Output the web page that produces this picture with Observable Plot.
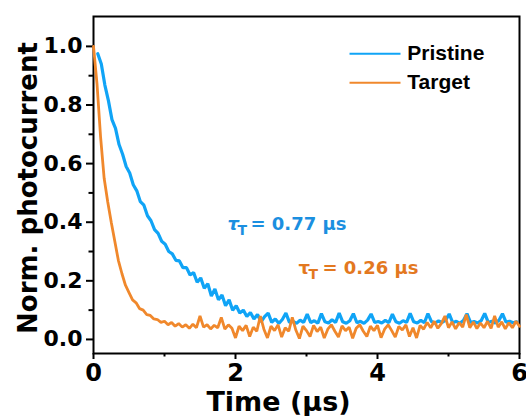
<!DOCTYPE html>
<html><head><meta charset="utf-8">
<script src="https://cdn.jsdelivr.net/npm/d3@7"></script>
<script src="https://cdn.jsdelivr.net/npm/@observablehq/plot@0.6"></script>
<style>body{margin:0;background:#fff} #chart{width:526px;height:416px}</style>
</head><body><div id="chart"></div>
<script>
// Sampling grid (μs)
const pristineStart = 0.06;
const targetStart = 0.0;
const sampleStep = 0.05;

// Pristine, normalized photocurrent
const pristineValues = [
  0.975, 0.94, 0.868, 0.815, 0.75, 0.72, 0.665, 0.632, 0.59, 0.568,
  0.528, 0.507, 0.47, 0.458, 0.422, 0.405, 0.375, 0.362, 0.335, 0.325,
  0.3, 0.292, 0.27, 0.268, 0.245, 0.245, 0.22, 0.228, 0.195, 0.21,
  0.175, 0.19, 0.148, 0.172, 0.135, 0.152, 0.115, 0.135, 0.1, 0.115,
  0.09, 0.1, 0.078, 0.092, 0.07, 0.085, 0.06, 0.078, 0.09, 0.058,
  0.07, 0.055, 0.068, 0.09, 0.058, 0.062, 0.055, 0.066, 0.058, 0.086,
  0.057, 0.064, 0.055, 0.088, 0.06, 0.056, 0.067, 0.058, 0.09, 0.06,
  0.055, 0.064, 0.088, 0.057, 0.062, 0.055, 0.066, 0.087, 0.058, 0.061,
  0.056, 0.065, 0.057, 0.086, 0.06, 0.055, 0.064, 0.058, 0.089, 0.06,
  0.056, 0.065, 0.057, 0.088, 0.061, 0.056, 0.063, 0.058, 0.066, 0.087,
  0.057, 0.062, 0.055, 0.065, 0.088, 0.058, 0.061, 0.056, 0.064, 0.089,
  0.058, 0.062, 0.056, 0.065, 0.088, 0.059, 0.062, 0.057, 0.06
];

// Target, normalized photocurrent
const targetValues = [
  1.00, 0.87, 0.69, 0.55, 0.47, 0.40, 0.335, 0.27, 0.225, 0.185,
  0.16, 0.135, 0.125, 0.105, 0.1, 0.085, 0.082, 0.07, 0.068, 0.058,
  0.062, 0.05, 0.058, 0.045, 0.054, 0.042, 0.05, 0.038, 0.052, 0.04,
  0.08, 0.042, 0.05, 0.036, 0.048, 0.04, 0.075, 0.035, 0.05, 0.038,
  0.005, 0.045, 0.03, 0.048, 0.01, 0.042, 0.028, 0.08, 0.035, 0.005,
  0.045, 0.03, 0.05, 0.008, 0.04, 0.028, 0.075, 0.032, 0.003, 0.045,
  0.03, 0.01, 0.048, 0.027, 0.042, 0.005, 0.035, 0.05, 0.028, 0.008,
  0.046, 0.03, 0.042, 0.004, 0.038, 0.05, 0.028, 0.01, 0.045, 0.03,
  0.048, 0.006, 0.035, 0.05, 0.03, 0.008, 0.044, 0.032, 0.05, 0.01,
  0.04, 0.005, 0.048, 0.035, 0.058, 0.04, 0.062, 0.038, 0.055, 0.08,
  0.04, 0.06, 0.036, 0.057, 0.042, 0.085, 0.04, 0.06, 0.037, 0.056,
  0.04, 0.062, 0.038, 0.08, 0.042, 0.06, 0.036, 0.057, 0.04, 0.062,
  0.045
];

const seriesNames = ["Pristine", "Target"];
const seriesColors = ["#10a4f6", "#f0882c"];
const textColors = ["#1b8fe0", "#e3781f"];
const tauValues = ["= 0.77 μs", "= 0.26 μs"];
const xMajorTicks = [0, 2, 4, 6];
const xMinorTicks = [1, 3, 5];
const yMajorTicks = [0, 0.2, 0.4, 0.6, 0.8, 1.0];
const yMinorTicks = [0.1, 0.3, 0.5, 0.7, 0.9];
const xTitle = "Time (μs)";
const yTitle = "Norm. photocurrent";

const rows = [];
pristineValues.forEach((v, i) => rows.push({series: "Pristine", t: pristineStart + i * sampleStep, v}));
targetValues.forEach((v, i) => rows.push({series: "Target", t: targetStart + i * sampleStep, v}));

const boldFont = "DejaVu Sans";
const legendFont = "Liberation Sans, Arial, sans-serif";

const plot = Plot.plot({
  width: 526,
  height: 416,
  marginLeft: 93,
  marginRight: 7,
  marginTop: 16,
  marginBottom: 63,
  x: {domain: [0, 6], label: null},
  y: {domain: [-0.048, 1.102], label: null},
  color: {domain: seriesNames, range: seriesColors},
  style: {fontFamily: boldFont, fontWeight: "bold", color: "black", background: "white"},
  marks: [
    Plot.axisX(xMajorTicks, {tickSize: 6, tickPadding: 4, fontSize: 24, strokeWidth: 2, tickFormat: d => String(d), label: null}),
    Plot.axisX(xMinorTicks, {tickSize: 3.5, strokeWidth: 2, tickFormat: () => "", label: null}),
    Plot.axisY(yMajorTicks, {tickSize: 7, tickPadding: 4, fontSize: 22, strokeWidth: 2, tickFormat: d => d.toFixed(1), label: null}),
    Plot.axisY(yMinorTicks, {tickSize: 4.5, strokeWidth: 2, tickFormat: () => "", label: null}),
    Plot.frame({stroke: "black", strokeWidth: 2}),
    Plot.line(rows.filter(d => d.series === "Pristine"), {x: "t", y: "v", stroke: "series", strokeWidth: 3.2, strokeLinejoin: "miter"}),
    Plot.line(rows.filter(d => d.series === "Target"), {x: "t", y: "v", stroke: "series", strokeWidth: 2.8, strokeLinejoin: "miter"}),
    // legend
    Plot.link(seriesNames, {x1: 3.606, x2: 4.324, y1: d => d === "Pristine" ? 0.975 : 0.876, y2: d => d === "Pristine" ? 0.975 : 0.876, stroke: d => d, strokeWidth: 2}),
    Plot.text(seriesNames, {x: 4.42, y: d => d === "Pristine" ? 0.975 : 0.876, text: d => d, textAnchor: "start", lineAnchor: "middle", fontFamily: legendFont, fontSize: 21, fontWeight: "bold", fill: "black"}),
    // tau annotations
    Plot.text(["τ"], {x: 1.887, y: 0.375, text: d => d, textAnchor: "start", lineAnchor: "bottom", fontSize: 18, fontStyle: "italic", fill: textColors[0]}),
    Plot.text(["T"], {x: 1.887, y: 0.375, dx: 10, dy: 5, text: d => d, textAnchor: "start", lineAnchor: "bottom", fontSize: 14, fill: textColors[0]}),
    Plot.text([tauValues[0]], {x: 1.887, y: 0.375, dx: 23, text: d => d, textAnchor: "start", lineAnchor: "bottom", fontSize: 18, fill: textColors[0]}),
    Plot.text(["τ"], {x: 2.887, y: 0.222, text: d => d, textAnchor: "start", lineAnchor: "bottom", fontSize: 18, fill: textColors[1]}),
    Plot.text(["T"], {x: 2.887, y: 0.222, dx: 10, dy: 5, text: d => d, textAnchor: "start", lineAnchor: "bottom", fontSize: 14, fill: textColors[1]}),
    Plot.text([tauValues[1]], {x: 2.887, y: 0.222, dx: 24, text: d => d, textAnchor: "start", lineAnchor: "bottom", fontSize: 18, fill: textColors[1]}),
    // axis titles
    Plot.text([xTitle], {frameAnchor: "bottom", dx: -28, dy: 57, text: d => d, textAnchor: "middle", lineAnchor: "bottom", fontSize: 27, fill: "black"}),
    Plot.text([yTitle], {frameAnchor: "left", rotate: -90, dx: -57, dy: 3, text: d => d, textAnchor: "middle", lineAnchor: "bottom", fontSize: 26, fill: "black"})
  ]
});
document.getElementById("chart").appendChild(plot);
</script>
</body></html>
